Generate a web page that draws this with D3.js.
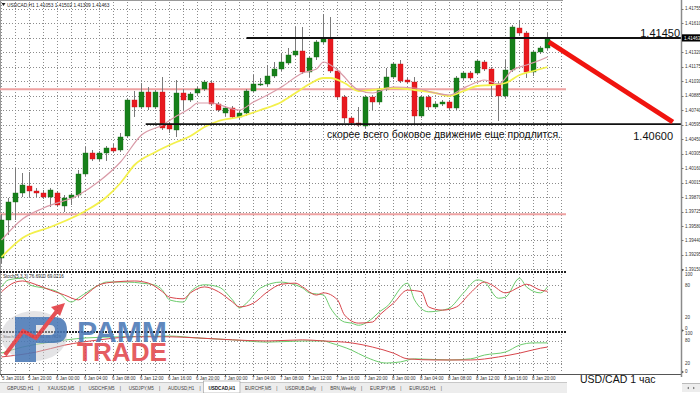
<!DOCTYPE html>
<html><head><meta charset="utf-8">
<script src="https://cdn.jsdelivr.net/npm/d3@7"></script>
<style>html,body{margin:0;padding:0;background:#fff;overflow:hidden}svg{display:block;font-family:"Liberation Sans",Arial,sans-serif}</style>
</head><body><svg id="c" width="700" height="393"></svg>
<script>
// ---------- DATA ----------
const symbolTitle = "USDCAD,H1  1.41053 1.41502 1.41309 1.41463";
const openP  = [1.39262,1.39642,1.39822,1.39912,1.39982,1.39932,1.39912,1.39872,1.39912,1.39782,1.39862,1.39892,1.40102,1.40312,1.40252,1.40312,1.40362,1.40342,1.40482,1.40842,1.40772,1.40922,1.40772,1.40922,1.40602,1.40542,1.40912,1.40842,1.40912,1.40952,1.41012,1.40802,1.40712,1.40762,1.40672,1.40712,1.40932,1.40992,1.41002,1.41082,1.41152,1.41212,1.41292,1.41332,1.41122,1.41272,1.41422,1.41462,1.41132,1.40872,1.40662,1.40612,1.40582,1.40872,1.40822,1.40952,1.41072,1.41202,1.41042,1.41022,1.40682,1.40872,1.40772,1.40802,1.40822,1.40762,1.41062,1.41112,1.41112,1.41222,1.41152,1.41002,1.40882,1.41142,1.41562,1.41512,1.41122,1.41322,1.41362];
const highP  = [1.39702,1.39862,1.40162,1.40112,1.40122,1.39962,1.39942,1.39962,1.39932,1.39892,1.39912,1.40142,1.40372,1.40342,1.40332,1.40382,1.40402,1.40512,1.40862,1.40932,1.41012,1.40972,1.40942,1.41072,1.40622,1.41042,1.40952,1.40922,1.40972,1.41042,1.41032,1.40822,1.40782,1.40782,1.40732,1.40952,1.41092,1.41062,1.41192,1.41222,1.41312,1.41362,1.41572,1.41572,1.41282,1.41442,1.41702,1.41672,1.41152,1.40892,1.40682,1.40772,1.40892,1.40892,1.40972,1.41162,1.41222,1.41242,1.41072,1.41072,1.40892,1.40892,1.40822,1.40842,1.40842,1.41082,1.41132,1.41132,1.41252,1.41242,1.41172,1.41022,1.41242,1.41592,1.41642,1.41532,1.41342,1.41382,1.41512];
const lowP   = [1.39212,1.39492,1.39642,1.39872,1.39872,1.39872,1.39852,1.39772,1.39772,1.39722,1.39792,1.39872,1.40082,1.40232,1.40232,1.40232,1.40312,1.40322,1.40462,1.40672,1.40752,1.40742,1.40752,1.40542,1.40512,1.40472,1.40742,1.40822,1.40882,1.40932,1.40782,1.40722,1.40682,1.40652,1.40652,1.40682,1.40922,1.40982,1.40982,1.41062,1.41132,1.41192,1.41272,1.41102,1.41072,1.41242,1.41402,1.41112,1.40842,1.40612,1.40592,1.40572,1.40562,1.40742,1.40802,1.40932,1.41052,1.41012,1.41002,1.40592,1.40662,1.40742,1.40752,1.40782,1.40742,1.40742,1.41042,1.41042,1.41092,1.41132,1.40872,1.40632,1.40862,1.41122,1.41492,1.41062,1.41082,1.41302,1.41342];
const closeP = [1.39642,1.39822,1.39912,1.39992,1.39932,1.39912,1.39872,1.39942,1.39792,1.39862,1.39892,1.40102,1.40312,1.40252,1.40312,1.40362,1.40332,1.40472,1.40842,1.40772,1.40922,1.40772,1.40922,1.40562,1.40552,1.40912,1.40842,1.40902,1.40952,1.41022,1.40802,1.40742,1.40762,1.40672,1.40712,1.40932,1.41002,1.41002,1.41082,1.41152,1.41222,1.41292,1.41332,1.41122,1.41262,1.41422,1.41462,1.41132,1.40872,1.40662,1.40612,1.40592,1.40872,1.40822,1.40952,1.41072,1.41202,1.41032,1.41022,1.40682,1.40872,1.40772,1.40802,1.40822,1.40762,1.41062,1.41112,1.41062,1.41232,1.41152,1.41002,1.40882,1.41142,1.41572,1.41512,1.41122,1.41322,1.41362,1.41462];

// fast MA (pink): [bar, price]
const maFast = [[0,1.39442],[3,1.39652],[6,1.39762],[11,1.39892],[14,1.40032],[17,1.40222],[20,1.40492],[23,1.40592],[25,1.40682],[27,1.40762],[28,1.40812],[30,1.40812],[33,1.40752],[34,1.40742],[36,1.40822],[38,1.40892],[40,1.40972],[43,1.41112],[45,1.41152],[46,1.41222],[47,1.41192],[48,1.41142],[49,1.41072],[50,1.40992],[51,1.40942],[53,1.40912],[56,1.40972],[59,1.40962],[62,1.40912],[64,1.40892],[66,1.40962],[68,1.41022],[69,1.41042],[71,1.41002],[73,1.41142],[75,1.41192],[77,1.41242],[78,1.41272]];
// slow MA (yellow): [bar, price]
const maSlow = [[0,1.39272],[3,1.39462],[7,1.39572],[12,1.39732],[15,1.39872],[17,1.40012],[19,1.40192],[22,1.40322],[25,1.40422],[27,1.40482],[29,1.40572],[31,1.40632],[34,1.40672],[37,1.40742],[40,1.40822],[42,1.40912],[44,1.41002],[46,1.41062],[47,1.41062],[49,1.41012],[51,1.40932],[53,1.40942],[56,1.40962],[59,1.40942],[62,1.40912],[64,1.40882],[66,1.40932],[68,1.40982],[70,1.40992],[72,1.41012],[74,1.41092],[76,1.41132],[78,1.41172]];

// horizontal reference lines
const pinkLevels = [1.40950, 1.39700];
const resistance = {from: 35, level: 1.41462, label: "1.41450"};
const support    = {from: 20.6, level: 1.40600, label: "1.40600"};
const arrowLine  = {x0: 78.2, p0: 1.41422, x1: 95.9, p1: 1.40622};

const priceTicks = ["1.41755","1.41610","1.41465","1.41320","1.41175","1.41030","1.40885","1.40740","1.40595","1.40450","1.40305","1.40160","1.40015","1.39870","1.39725","1.39580","1.39440","1.39295","1.39150"];
const lastPrice = "1.41463";

// Stochastic panel 1 (5,3,3): [bar, value]
const stoch1Label = "Stoch(5,3,3) 76.6910 69.0216";
const stoch1K = [[0,77],[1,90],[3,93],[4,81],[6,75],[8,68],[10,49],[11,57],[14,81],[15,86],[18,86],[20,84],[22,80],[23,71],[24,53],[26,49],[27,68],[29,81],[31,77],[33,53],[34,38],[35,47],[37,75],[40,86],[41,84],[43,75],[44,66],[46,62],[47,38],[49,12],[50,10],[51,6],[53,19],[54,31],[55,40],[58,84],[59,53],[61,31],[63,34],[64,38],[66,66],[68,90],[69,86],[71,56],[72,58],[74,93],[75,77],[77,66],[78,77]];
const stoch1D = [[0,68],[2,86],[3,88],[5,81],[7,71],[9,62],[11,53],[12,62],[14,81],[16,86],[19,88],[21,84],[23,68],[24,58],[26,55],[27,66],[29,77],[31,68],[33,49],[34,40],[36,47],[38,68],[40,82],[42,84],[43,77],[45,62],[46,66],[48,53],[49,25],[51,10],[53,12],[54,25],[56,47],[58,71],[60,68],[61,40],[63,34],[65,40],[67,66],[69,86],[70,81],[72,66],[74,77],[75,82],[77,71],[78,69]];
// Stochastic panel 2 (slow)
const stoch2Label = "Stoch(21,9,9) 58.1794 46.7829";
const stoch2K = [[0,47],[3,63],[7,76],[12,87],[17,90],[24,92],[28,87],[33,82],[38,76],[43,79],[46,79],[47,74],[50,55],[52,37],[55,21],[57,24],[59,32],[64,29],[67,32],[69,42],[72,50],[74,68],[76,74],[78,74]];
const stoch2D = [[0,37],[5,50],[9,68],[14,82],[19,90],[24,90],[28,87],[33,82],[38,79],[43,82],[46,79],[50,74],[53,63],[56,47],[58,32],[62,29],[67,29],[71,37],[74,47],[77,60],[78,63]];
const stochLevels = [80, 20];
const stochAxisLabels = ["100","80","20","0"];

const timeLabels = ["5 Jan 2016","5 Jan 20:00","6 Jan 00:00","6 Jan 04:00","6 Jan 08:00","6 Jan 12:00","6 Jan 16:00","6 Jan 20:00","7 Jan 00:00","7 Jan 04:00","7 Jan 08:00","7 Jan 12:00","7 Jan 16:00","7 Jan 20:00","8 Jan 00:00","8 Jan 04:00","8 Jan 08:00","8 Jan 12:00","8 Jan 16:00","8 Jan 20:00"];
const timeLabelBars = [0,4,8,12,16,20,24,28,32,36,40,44,48,52,56,60,64,68,72,76];
const tabs = ["GBPUSD,H1","XAUUSD,M5","USDCHF,M5","USDJPY,M5","AUDUSD,H1","USDCAD,H1","EURCHF,M5","USDRUB,Daily","BRN,Weekly","EURJPY,M5","EURUSD,H1"];
const activeTab = "USDCAD,H1";
const noteText = "скорее всего боковое движение еще продлится.";
const captionText = "USD/CAD 1 час";

// ---------- SCALES ----------
const svg = d3.select('#c');
const x = d3.scaleLinear().domain([0, 78]).range([1.5, 547.5]);
const y = d3.scaleLinear().domain([1.39150, 1.41465]).range([269.2, 37.7]);
const ys1 = d3.scaleLinear().domain([0, 100]).range([328.5, 274.5]);
const ys2 = d3.scaleLinear().domain([0, 100]).range([371, 333]);
const RIGHT = 563, AXIS_X = 681.5;
const px = v => Math.round(v) + 0.5;

svg.append('rect').attr('width', 700).attr('height', 393).attr('fill', '#fff');

// ---------- GRID ----------
const grid = svg.append('g').attr('stroke', '#8c8c8c').attr('stroke-width', 1).attr('stroke-dasharray', '1,2');
const panelsV = [[2, 270], [274, 330], [334, 373]];
d3.range(0, 81, 2).forEach(b => {
  panelsV.forEach(([a, c]) => grid.append('line').attr('x1', x(b)).attr('x2', x(b)).attr('y1', a).attr('y2', c));
});
priceTicks.forEach(t => grid.append('line').attr('x1', 0).attr('x2', RIGHT).attr('y1', px(y(+t))).attr('y2', px(y(+t))));
stochLevels.forEach(l => {
  grid.append('line').attr('x1', 0).attr('x2', RIGHT).attr('y1', px(ys1(l))).attr('y2', px(ys1(l)));
  grid.append('line').attr('x1', 0).attr('x2', RIGHT).attr('y1', px(ys2(l))).attr('y2', px(ys2(l)));
});

// frame
svg.append('line').attr('x1', 0).attr('x2', RIGHT).attr('y1', 0.5).attr('y2', 0.5).attr('stroke', '#9a9a9a');
svg.append('line').attr('x1', 0.5).attr('x2', 0.5).attr('y1', 0).attr('y2', 375).attr('stroke', '#9a9a9a');
// separators
[272, 332].forEach(s => svg.append('line').attr('x1', 0).attr('x2', 567).attr('y1', s).attr('y2', s)
  .attr('stroke', '#222').attr('stroke-width', 2.2).attr('stroke-dasharray', '2,1'));
svg.append('line').attr('x1', 0).attr('x2', AXIS_X).attr('y1', 374.5).attr('y2', 374.5).attr('stroke', '#555');

// pink static levels
pinkLevels.forEach(l => svg.append('line').attr('x1', 0).attr('x2', 566).attr('y1', y(l)).attr('y2', y(l))
  .attr('stroke', '#eea2a2').attr('stroke-width', 2));

// ---------- CANDLES ----------
const cg = svg.append('g');
openP.forEach((o, i) => {
  const c = closeP[i], up = c >= o;
  const cx = x(i);
  cg.append('line').attr('x1', cx).attr('x2', cx).attr('y1', y(highP[i])).attr('y2', y(lowP[i]))
    .attr('stroke', '#7a7a7a').attr('stroke-width', 1);
  const top = y(Math.max(o, c)), bot = y(Math.min(o, c));
  cg.append('rect').attr('x', cx - 2.5).attr('width', 5).attr('y', top).attr('height', Math.max(1, bot - top))
    .attr('fill', up ? '#16801a' : '#e8191f').attr('stroke', up ? '#0f6a12' : '#c81015').attr('stroke-width', 0.4);
});

// ---------- MAs ----------
const maLine = d3.line().x(d => x(d[0])).y(d => y(d[1])).curve(d3.curveMonotoneX);
svg.append('path').attr('d', maLine(maSlow)).attr('fill', 'none').attr('stroke', '#f3f04c').attr('stroke-width', 1.8);
svg.append('path').attr('d', maLine(maFast)).attr('fill', 'none').attr('stroke', '#d99aa7').attr('stroke-width', 1.2);

// ---------- ANNOTATION LINES ----------
svg.append('line').attr('x1', x(resistance.from)).attr('x2', AXIS_X).attr('y1', y(resistance.level)).attr('y2', y(resistance.level))
  .attr('stroke', '#111').attr('stroke-width', 1.8);
svg.append('line').attr('x1', x(support.from)).attr('x2', AXIS_X).attr('y1', y(support.level)).attr('y2', y(support.level))
  .attr('stroke', '#111').attr('stroke-width', 1.8);
svg.append('line').attr('x1', x(arrowLine.x0)).attr('y1', y(arrowLine.p0)).attr('x2', x(arrowLine.x1)).attr('y2', y(arrowLine.p1))
  .attr('stroke', '#f0140f').attr('stroke-width', 5);

svg.append('text').attr('x', 680).attr('y', 36.5).attr('text-anchor', 'end').attr('font-size', 11).attr('fill', '#111').text(resistance.label);
svg.append('text').attr('x', 673).attr('y', 140).attr('text-anchor', 'end').attr('font-size', 11).attr('fill', '#111').text(support.label);
svg.append('text').attr('x', 327).attr('y', 137.5).attr('font-size', 10.6).attr('fill', '#111')
  .attr('textLength', 234).attr('lengthAdjust', 'spacingAndGlyphs').text(noteText);
svg.append('text').attr('x', 580).attr('y', 382.5).attr('font-size', 10.5).attr('fill', '#111').text(captionText);

// ---------- STOCHASTICS ----------
const s1 = d3.line().x(d => x(d[0])).y(d => ys1(d[1])).curve(d3.curveMonotoneX);
const s2 = d3.line().x(d => x(d[0])).y(d => ys2(d[1])).curve(d3.curveMonotoneX);
svg.append('path').attr('d', s1(stoch1K)).attr('fill', 'none').attr('stroke', '#6ccb6c').attr('stroke-width', 1);
svg.append('path').attr('d', s1(stoch1D)).attr('fill', 'none').attr('stroke', '#d8464c').attr('stroke-width', 1);
svg.append('path').attr('d', s2(stoch2K)).attr('fill', 'none').attr('stroke', '#6ccb6c').attr('stroke-width', 1);
svg.append('path').attr('d', s2(stoch2D)).attr('fill', 'none').attr('stroke', '#d8464c').attr('stroke-width', 1);
svg.append('text').attr('x', 3).attr('y', 278).attr('font-size', 4.6).attr('fill', '#222').text(stoch1Label);
svg.append('text').attr('x', 3).attr('y', 337.5).attr('font-size', 4.2).attr('fill', '#222').text(stoch2Label);

// title
svg.append('path').attr('d', 'M1.5,3 L5.5,3 L3.5,6 Z').attr('fill', '#222');
svg.append('text').attr('x', 7).attr('y', 6.5).attr('font-size', 4.8).attr('fill', '#222').text(symbolTitle);

// ---------- RIGHT AXIS ----------
svg.append('line').attr('x1', AXIS_X).attr('x2', AXIS_X).attr('y1', 0).attr('y2', 377).attr('stroke', '#8a8a8a').attr('stroke-width', 1.5);
const ax = svg.append('g').attr('font-size', 4.5).attr('fill', '#333');
priceTicks.forEach(t => {
  const yy = y(+t);
  svg.append('line').attr('x1', AXIS_X).attr('x2', AXIS_X + 2).attr('y1', px(yy)).attr('y2', px(yy)).attr('stroke', '#777');
  ax.append('text').attr('x', 685).attr('y', yy + 1.6).text(t);
});
svg.append('rect').attr('x', 682).attr('y', y(+lastPrice) - 3.6).attr('width', 18).attr('height', 7.2).attr('fill', '#000');
svg.append('text').attr('x', 684).attr('y', y(+lastPrice) + 1.6).attr('font-size', 4.5).attr('fill', '#fff').text(lastPrice);
stochAxisLabels.forEach(t => {
  ax.append('text').attr('x', 685).attr('y', ys1(+t) + 1.6).text(t);
  ax.append('text').attr('x', 685).attr('y', ys2(+t) + 1.6).text(t);
});
[270, 330.5, 372].forEach(v => svg.append('path').attr('d', `M${AXIS_X+0.5},${v-1.2} L${AXIS_X+2.5},${v} L${AXIS_X+0.5},${v+1.2}Z`).attr('fill', '#555'));

// ---------- TIME AXIS ----------
const ta = svg.append('g').attr('font-size', 4.5).attr('fill', '#333');
timeLabels.forEach((t, k) => {
  const xx = x(timeLabelBars[k]);
  svg.append('line').attr('x1', xx).attr('x2', xx).attr('y1', 374.5).attr('y2', 376.5).attr('stroke', '#555');
  ta.append('text').attr('x', k === 0 ? 2 : xx - 1.5).attr('y', 380).text(t);
});

// ---------- TABS ----------
svg.append('rect').attr('x', 0).attr('y', 382).attr('width', 567).attr('height', 11).attr('fill', '#ededed');
svg.append('line').attr('x1', 0).attr('x2', 567).attr('y1', 382.5).attr('y2', 382.5).attr('stroke', '#c8c8c8');
const tabBg = svg.append('g');
const tg = svg.append('g').attr('font-size', 4.6).attr('fill', '#444');
let tx = 7;
tabs.forEach(t => {
  const txt = tg.append('text').attr('x', tx).attr('y', 389.5).text(t);
  const w = txt.node().getComputedTextLength();
  if (t === activeTab) {
    tabBg.append('rect').attr('x', tx - 5).attr('y', 381).attr('width', w + 10).attr('height', 12)
      .attr('fill', '#fff').attr('stroke', '#999').attr('stroke-width', 0.6);
    txt.attr('fill', '#111').attr('font-weight', 'bold');
    tx += w + 10;
  } else {
    tg.append('text').attr('x', tx + w + 5).attr('y', 389.5).text('|');
    tx += w + 14;
  }
});
svg.append('rect').attr('x', 682).attr('y', 383).attr('width', 18).attr('height', 9).attr('fill', '#ededed');
svg.append('line').attr('x1', 682).attr('x2', 700).attr('y1', 383.5).attr('y2', 383.5).attr('stroke', '#bbb');
svg.append('path').attr('d', 'M687,388 L689,386.8 L689,389.2Z M695,388 L693,386.8 L693,389.2Z').attr('fill', '#777');

// ---------- LOGO (watermark) ----------
const logo = svg.append('g').attr('opacity', 0.88);
logo.append('ellipse').attr('cx', 34).attr('cy', 336).attr('rx', 33).attr('ry', 25).attr('fill', '#c9c9cc').attr('opacity', 0.55);
logo.append('path').attr('fill-rule', 'evenodd').attr('fill', '#4a78b6')
  .attr('d', 'M15,317 L54,317 Q67,317 67,330 Q67,343 54,343 L36,343 L36,362 L15,362 Z M36,325 L50,325 Q55,325 55,330 Q55,335 50,335 L36,335 Z');
logo.append('polyline').attr('points', '5,355 23,331 36,338 57,311').attr('fill', 'none').attr('stroke', '#e2383e').attr('stroke-width', 4).attr('stroke-linejoin', 'miter');
logo.append('polygon').attr('points', '65,303 51,307 60,316').attr('fill', '#e2383e');
const brand = logo.append('text').attr('font-weight', 'bold');
brand.append('tspan').attr('x', 77).attr('y', 341.5).attr('font-size', 29).attr('fill', '#4a78b6')
  .attr('textLength', 90).attr('lengthAdjust', 'spacingAndGlyphs').text('PAMM');
brand.append('tspan').attr('x', 77).attr('y', 361).attr('font-size', 25).attr('fill', '#e2474c')
  .attr('textLength', 90).attr('lengthAdjust', 'spacingAndGlyphs').text('TRADE');
</script></body></html>
